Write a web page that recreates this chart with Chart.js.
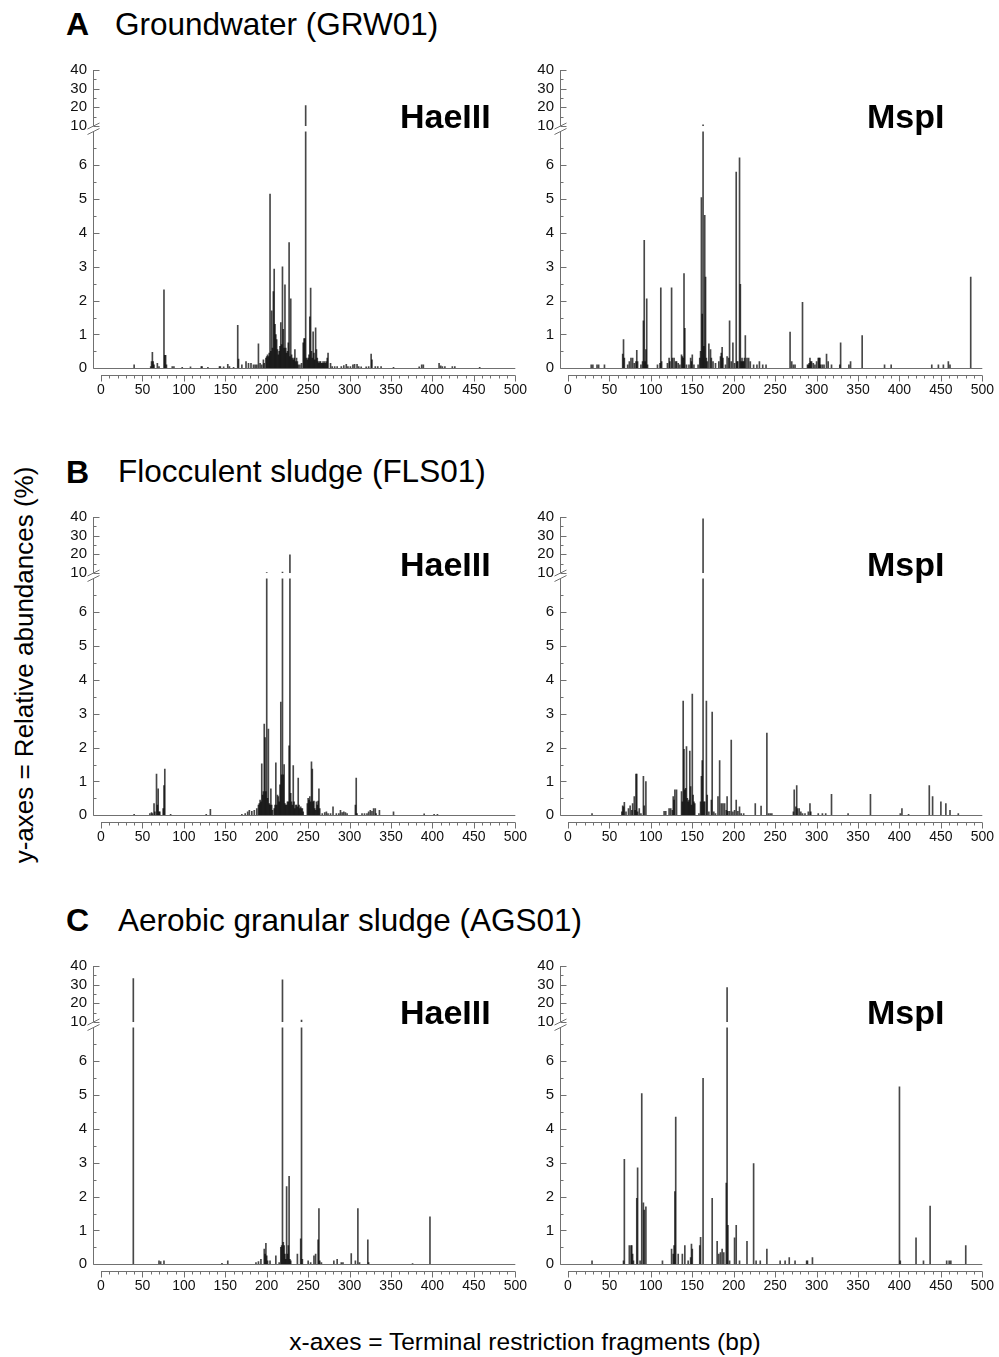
<!DOCTYPE html>
<html>
<head>
<meta charset="utf-8">
<script src="https://cdn.jsdelivr.net/npm/chart.js@4.4.1/dist/chart.umd.min.js"></script>
<style>
  body { margin: 0; width: 999px; height: 1357px; background: #fff; position: relative; overflow: hidden;
         font-family: "Liberation Sans", Arial, sans-serif; color: #000; }
  canvas { position: absolute; }
  .txt { position: absolute; white-space: nowrap; line-height: 1; }
  .letter { font-size: 32px; font-weight: bold; }
  .title { font-size: 31.5px; }
  .enzyme { font-size: 34px; font-weight: bold; }
  .axtitle { font-size: 24.5px; }
</style>
</head>
<body>

<div class="txt letter" style="left:66px; top:8px">A</div>
<div class="txt title" style="left:115px; top:8.5px">Groundwater (GRW01)</div>
<div class="txt letter" style="left:66px; top:455.5px">B</div>
<div class="txt title" style="left:118px; top:456px">Flocculent sludge (FLS01)</div>
<div class="txt letter" style="left:66px; top:904px">C</div>
<div class="txt title" style="left:118px; top:904.5px">Aerobic granular sludge (AGS01)</div>

<canvas id="grwHae" width="500" height="364" style="left:40px; top:47px"></canvas>
<canvas id="grwMsp" width="500" height="364" style="left:506.7px; top:47px"></canvas>
<canvas id="flsHae" width="500" height="364" style="left:40px; top:494.2px"></canvas>
<canvas id="flsMsp" width="500" height="364" style="left:506.7px; top:494.2px"></canvas>
<canvas id="agsHae" width="500" height="364" style="left:40px; top:942.7px"></canvas>
<canvas id="agsMsp" width="500" height="364" style="left:506.7px; top:942.7px"></canvas>

<div class="txt enzyme" style="left:400px; top:99px">HaeIII</div>
<div class="txt enzyme" style="left:867px; top:99px">MspI</div>
<div class="txt enzyme" style="left:400px; top:546.5px">HaeIII</div>
<div class="txt enzyme" style="left:867px; top:546.5px">MspI</div>
<div class="txt enzyme" style="left:400px; top:995px">HaeIII</div>
<div class="txt enzyme" style="left:867px; top:995px">MspI</div>

<div class="txt axtitle" style="left:-226px; top:652px; width:500px; font-size:26px; text-align:center; transform:rotate(-90deg)">y-axes = Relative abundances (%)</div>
<div class="txt axtitle" style="left:225px; top:1330px; width:600px; text-align:center">x-axes = Terminal restriction fragments (bp)</div>

<script>
// ---- data: fragment length (bp) and relative abundance (%) per sample / enzyme ----
const grwHaeBp = [40,60,61,62,63,64,68,70,76,77,78,79,86,88,98,108,121,122,129,143,144,148,153,155,160,165,166,170,175,178,181,184,186,188,190,192,194,196,197,199,200,201,202,203,204,205,206,207,208,209,210,211,212,213,214,215,216,217,218,219,220,221,222,223,224,225,226,227,228,229,230,231,232,233,234,235,236,237,238,240,242,244,245,246,247,248,249,250,251,252,253,254,255,256,257,258,259,260,261,262,263,264,265,266,267,268,269,270,271,272,273,274,277,279,282,285,290,293,296,298,301,304,306,309,311,314,320,323,326,327,331,334,338,353,384,387,389,408,410,412,415,424,427,457];
const grwHaeAb = [0.1,0.05,0.2,0.47,0.2,0.1,0.15,0.05,2.32,0.38,0.38,0.1,0.05,0.05,0.03,0.04,0.05,0.05,0.03,0.05,0.05,0.04,0.12,0.05,0.03,1.27,0.27,0.1,0.2,0.15,0.15,0.1,0.1,0.1,0.72,0.15,0.1,0.25,0.15,0.3,0.35,0.4,0.35,0.45,5.15,0.5,1.7,0.6,2.27,2.93,1.3,1.0,0.85,0.55,0.4,0.5,0.65,1.35,0.7,3.0,1.15,0.6,2.47,0.6,0.45,0.5,0.75,3.72,0.35,2.05,0.4,0.3,0.25,0.3,0.55,0.2,0.3,0.2,0.1,0.1,0.15,0.75,0.88,0.88,21,0.3,0.25,0.3,0.4,1.52,2.37,0.5,0.3,1.08,0.45,0.25,1.2,0.55,0.3,0.2,0.15,0.2,0.2,0.15,0.15,0.2,0.15,0.2,0.15,0.2,0.3,0.45,0.15,0.05,0.05,0.05,0.05,0.08,0.12,0.05,0.05,0.1,0.12,0.12,0.05,0.04,0.04,0.05,0.42,0.25,0.05,0.05,0.05,0.03,0.04,0.1,0.1,0.15,0.07,0.05,0.05,0.05,0.05,0.03];

const grwMspBp = [28,30,35,37,44,66,67,68,72,74,76,78,80,82,83,84,88,90,91,92,93,94,95,96,108,111,112,113,120,122,123,125,126,128,130,131,133,135,137,138,139,140,141,143,146,148,149,150,152,157,159,160,161,162,163,164,165,166,167,168,170,172,173,175,178,182,184,185,186,187,190,192,194,195,197,199,201,203,204,205,207,208,209,210,211,212,213,214,216,218,220,224,228,231,235,239,268,270,272,274,283,289,290,291,292,293,294,296,298,300,302,303,304,305,307,309,312,314,318,328,329,339,341,355,382,390,439,447,453,459,461,486];
const grwMspAb = [0.1,0.1,0.1,0.1,0.1,0.42,0.85,0.3,0.1,0.2,0.3,0.3,0.15,0.2,0.53,0.2,0.1,0.2,1.4,3.78,0.2,0.55,2.05,0.1,0.1,0.15,2.38,0.2,0.15,0.3,0.2,2.38,0.3,0.3,0.2,0.2,0.15,0.1,0.4,0.35,0.3,2.8,1.18,0.1,0.1,0.3,0.2,0.4,0.1,0.1,0.3,0.5,5.05,1.6,10.6,0.65,4.52,2.7,0.3,0.2,0.72,0.55,0.3,0.2,0.15,0.2,0.35,0.45,0.62,0.3,0.1,0.35,0.3,1.4,0.2,0.75,0.15,5.8,0.2,0.2,6.22,2.48,0.2,0.3,0.2,0.2,0.3,0.97,0.3,0.3,0.2,0.1,0.1,0.2,0.1,0.1,1.07,0.2,0.1,0.1,1.95,0.1,0.1,0.15,0.3,0.2,0.2,0.15,0.1,0.2,0.3,0.3,0.3,0.1,0.1,0.1,0.42,0.2,0.1,0.1,0.75,0.1,0.2,0.97,0.1,0.1,0.1,0.1,0.1,0.2,0.1,2.7];

const flsHaeBp = [40,59,61,62,64,65,67,68,69,70,71,75,76,77,84,127,132,170,174,177,179,182,185,188,190,191,192,193,194,195,196,197,198,199,200,201,202,203,204,205,206,207,209,210,211,212,213,214,215,216,217,218,219,220,221,222,223,224,225,226,227,228,229,230,231,232,233,234,235,236,237,238,239,240,241,242,243,244,249,250,251,252,253,254,255,256,257,258,259,260,261,262,263,264,267,270,272,274,277,280,284,287,289,291,293,295,297,307,308,309,315,318,321,323,325,327,329,331,332,336,353,390,402,406];
const flsHaeAb = [0.03,0.05,0.08,0.05,0.35,0.1,1.22,0.3,0.78,0.1,0.1,0.2,0.88,1.37,0.03,0.03,0.18,0.03,0.05,0.1,0.15,0.12,0.15,0.2,0.3,0.35,0.45,0.4,1.52,0.6,0.7,2.7,2.3,0.7,10.3,0.5,2.55,0.35,0.3,0.78,0.3,0.15,0.2,0.3,1.55,0.3,0.6,0.55,0.4,0.9,3.35,1.2,10.5,1.2,1.5,0.35,0.3,0.3,0.4,0.4,2.05,19.8,0.65,0.4,0.3,1.47,0.4,0.2,0.3,0.3,0.25,1.1,0.3,0.2,0.25,0.2,0.2,0.1,0.35,0.5,0.45,0.55,0.4,1.58,1.37,0.4,0.42,0.2,0.15,0.4,0.3,0.42,0.78,0.2,0.05,0.08,0.1,0.05,0.05,0.25,0.05,0.05,0.15,0.08,0.1,0.08,0.05,0.3,1.1,0.05,0.05,0.05,0.05,0.1,0.15,0.12,0.2,0.2,0.05,0.15,0.1,0.04,0.03,0.03];

const flsMspBp = [29,65,66,67,68,70,73,75,77,78,80,81,82,83,84,86,88,91,92,94,116,118,122,124,126,127,128,129,131,137,138,139,140,141,142,143,144,145,146,147,148,149,150,151,152,153,158,160,161,162,163,164,165,167,168,170,173,174,176,178,181,183,185,187,189,191,192,193,195,197,199,201,203,205,207,209,212,226,233,240,242,244,246,272,273,275,276,277,279,281,283,286,290,292,293,302,307,311,318,338,365,401,403,411,436,440,450,456,461,471];
const flsMspAb = [0.05,0.1,0.28,0.25,0.38,0.1,0.2,0.28,0.15,0.35,0.55,0.15,1.22,1.22,0.1,0.2,0.05,1.15,0.28,1.0,0.12,0.12,0.2,0.2,0.15,0.55,0.45,0.75,0.75,0.7,0.4,3.38,1.95,0.75,0.8,2.03,0.5,0.4,0.45,1.9,0.85,0.3,3.58,0.6,0.4,0.35,0.05,0.4,1.15,1.62,39,0.4,0.4,3.38,0.6,0.1,0.45,3.05,0.1,0.05,0.55,1.62,0.35,0.35,0.35,0.15,0.55,0.12,0.12,2.22,0.1,0.15,0.45,0.12,0.25,0.05,0.05,0.35,0.27,2.43,0.05,0.05,0.05,0.1,0.75,0.25,0.88,0.2,0.2,0.1,0.05,0.05,0.1,0.35,0.1,0.05,0.05,0.05,0.62,0.05,0.62,0.05,0.2,0.03,0.88,0.55,0.4,0.35,0.15,0.05];

const agsHaeBp = [39,70,72,76,146,153,187,190,193,197,198,199,200,201,204,211,215,217,218,219,220,221,222,223,224,225,226,227,228,229,237,241,242,243,250,253,257,259,262,263,264,266,281,285,290,292,302,307,310,312,322,323,376,397];
const agsHaeAb = [33.2,0.1,0.08,0.1,0.03,0.1,0.05,0.08,0.15,0.45,0.3,0.62,0.25,0.1,0.1,0.25,0.05,0.5,0.55,32.6,0.65,0.55,0.3,0.15,2.3,0.3,0.55,2.6,0.15,0.1,0.3,0.75,11,0.15,0.1,0.05,0.25,0.3,0.72,1.65,0.1,0.05,0.1,0.15,0.05,0.05,0.32,0.1,1.65,0.05,0.72,0.05,0.02,1.4];

const agsMspBp = [29,67,68,74,76,77,78,79,83,84,87,89,91,92,94,114,125,127,128,129,130,133,138,141,145,148,149,150,159,160,163,174,180,182,184,186,188,191,192,193,195,201,203,207,216,224,227,232,240,256,262,267,274,288,289,295,400,401,420,429,437,457,460,462,480];
const agsMspAb = [0.1,0.1,3.1,0.55,0.55,0.55,0.3,0.1,1.95,2.85,0.1,5.05,1.82,1.6,1.7,0.1,0.45,0.3,0.55,2.15,4.35,0.3,0.3,0.55,0.1,0.2,0.6,0.45,0.55,0.8,5.5,1.95,0.68,0.3,0.35,0.45,0.35,2.4,28.5,1.15,0.1,0.78,1.15,0.1,0.68,2.98,0.1,0.1,0.45,0.1,0.1,0.2,0.1,0.1,0.1,0.2,5.25,0.1,0.78,0.1,1.72,0.1,0.1,0.1,0.55];

// axis ticks
const yTickValues = [0, 1, 2, 3, 4, 5, 6, 10, 20, 30, 40];
const yMinorTicks = [0.5, 1.5, 2.5, 3.5, 4.5, 5.5, 6.5, 15, 25, 35];
const xTickStep = 50;
const xMinorStep = 10;

// broken y axis: 0-7 below the break, 10-40 above it
const BREAK_LOW = 7;
const BREAK_HIGH = 10;
const LOW_SHARE = 0.7938;
const GAP_SHARE = 0.0184;

const AXIS_COLOR = '#707070';
const BAR_COLOR = 'rgba(0, 0, 0, 0.72)';
const AXIS_GAP = 8;
const FONT = '"Liberation Sans", Arial, sans-serif';

class BrokenScale extends Chart.LinearScale {
    getPixelForValue(value) {
        if (value === null || value === undefined || isNaN(value)) return NaN;
        let dec;
        if (value <= BREAK_LOW) {
            dec = value / BREAK_LOW * LOW_SHARE;
        } else if (value < BREAK_HIGH) {
            dec = LOW_SHARE + (value - BREAK_LOW) / (BREAK_HIGH - BREAK_LOW) * GAP_SHARE;
        } else {
            dec = LOW_SHARE + GAP_SHARE + (value - BREAK_HIGH) / (this.max - BREAK_HIGH) * (1 - LOW_SHARE - GAP_SHARE);
        }
        return this.getPixelForDecimal(dec);
    }
    getValueForPixel(pixel) {
        const dec = this.getDecimalForPixel(pixel);
        if (dec <= LOW_SHARE) return dec / LOW_SHARE * BREAK_LOW;
        if (dec < LOW_SHARE + GAP_SHARE) return BREAK_LOW + (dec - LOW_SHARE) / GAP_SHARE * (BREAK_HIGH - BREAK_LOW);
        return BREAK_HIGH + (dec - LOW_SHARE - GAP_SHARE) / (1 - LOW_SHARE - GAP_SHARE) * (this.max - BREAK_HIGH);
    }
}
BrokenScale.id = 'broken';
BrokenScale.defaults = Chart.LinearScale.defaults;
Chart.register(BrokenScale);

// offset axes, inward y ticks, break marks and zero line (Origin style)
const axisDecor = {
    id: 'axisDecor',
    afterDatasetsDraw(chart) {
        const { ctx, chartArea: area, scales: { x, y } } = chart;
        const axX = Math.round(area.left - AXIS_GAP) + 0.5;
        const yZero = Math.round(y.getPixelForValue(0)) + 0.5;
        const yLow = y.getPixelForValue(BREAK_LOW);
        const yHigh = y.getPixelForValue(BREAK_HIGH);
        const xAxisY = Math.round(area.bottom + AXIS_GAP - 1) + 0.5;

        ctx.save();
        // cut the bars at the axis break
        ctx.fillStyle = '#fff';
        ctx.fillRect(area.left - 1, yHigh, area.right - area.left + 2, yLow - yHigh);

        ctx.strokeStyle = AXIS_COLOR;
        ctx.lineWidth = 1;
        ctx.beginPath();
        ctx.moveTo(axX, yZero);
        ctx.lineTo(x.getPixelForValue(x.max), yZero);
        ctx.moveTo(axX, yZero);
        ctx.lineTo(axX, yLow);
        ctx.moveTo(axX, yHigh);
        ctx.lineTo(axX, area.top);
        y.ticks.forEach(t => {
            const p = Math.round(y.getPixelForValue(t.value)) + 0.5;
            ctx.moveTo(axX, p);
            ctx.lineTo(axX + 6, p);
        });
        yMinorTicks.forEach(v => {
            const p = Math.round(y.getPixelForValue(v)) + 0.5;
            ctx.moveTo(axX, p);
            ctx.lineTo(axX + 3, p);
        });
        [yLow, yHigh].forEach(p => {
            ctx.moveTo(axX - 6, p + 3);
            ctx.lineTo(axX + 6, p - 3);
        });

        ctx.moveTo(x.getPixelForValue(x.min), xAxisY);
        ctx.lineTo(x.getPixelForValue(x.max), xAxisY);
        for (let v = x.min; v <= x.max; v += xMinorStep) {
            const p = Math.round(x.getPixelForValue(v)) + 0.5;
            ctx.moveTo(p, xAxisY);
            ctx.lineTo(p, xAxisY + (v % xTickStep === 0 ? 6 : 3));
        }
        ctx.stroke();
        ctx.restore();
    }
};

function makePanel(canvasId, bp, ab) {
    const ctx = document.getElementById(canvasId).getContext('2d');
    return new Chart(ctx, {
        type: 'bar',
        data: {
            datasets: [{
                data: bp.map((v, i) => ({ x: v, y: ab[i] })),
                backgroundColor: BAR_COLOR,
                borderWidth: 0,
                barThickness: 1
            }]
        },
        options: {
            responsive: false,
            animation: false,
            events: [],
            layout: { padding: { left: 0, top: 0, right: 24.3, bottom: 11.7 } },
            plugins: { legend: { display: false }, tooltip: { enabled: false } },
            scales: {
                x: {
                    type: 'linear',
                    min: 0,
                    max: 500,
                    offset: false,
                    grid: { display: false, drawTicks: false, offset: false },
                    border: { display: false },
                    ticks: {
                        stepSize: xTickStep,
                        autoSkip: false,
                        maxRotation: 0,
                        padding: 13,
                        color: '#111',
                        font: { family: FONT, size: 14 }
                    },
                    afterFit: s => { s.height = 31; }
                },
                y: {
                    type: 'broken',
                    min: 0,
                    max: 40,
                    grid: { display: false, drawTicks: false },
                    border: { display: false },
                    ticks: {
                        autoSkip: false,
                        padding: 14,
                        color: '#111',
                        font: { family: FONT, size: 15 },
                        callback: v => v
                    },
                    afterBuildTicks: s => { s.ticks = yTickValues.map(value => ({ value })); },
                    afterFit: s => { s.width = 61; }
                }
            }
        },
        plugins: [axisDecor]
    });
}

makePanel('grwHae', grwHaeBp, grwHaeAb);
makePanel('grwMsp', grwMspBp, grwMspAb);
makePanel('flsHae', flsHaeBp, flsHaeAb);
makePanel('flsMsp', flsMspBp, flsMspAb);
makePanel('agsHae', agsHaeBp, agsHaeAb);
makePanel('agsMsp', agsMspBp, agsMspAb);
</script>
</body>
</html>
